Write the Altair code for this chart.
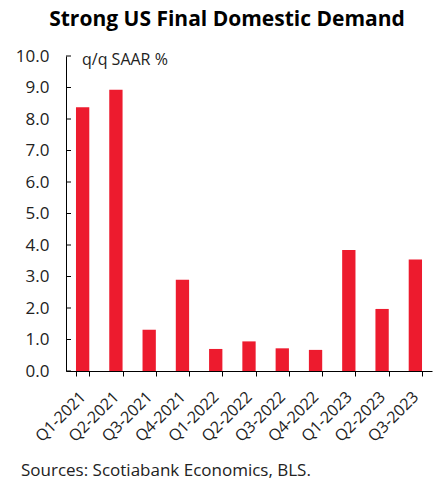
import altair as alt
import pandas as pd

quarters = ["Q1-2021", "Q2-2021", "Q3-2021", "Q4-2021", "Q1-2022", "Q2-2022",
            "Q3-2022", "Q4-2022", "Q1-2023", "Q2-2023", "Q3-2023"]
growth = [8.37, 8.93, 1.31, 2.90, 0.70, 0.94, 0.72, 0.67, 3.84, 1.97, 3.54]
y_ticks = [0, 1, 2, 3, 4, 5, 6, 7, 8, 9, 10]
unit_label = "q/q SAAR %"
source_note = "Sources: Scotiabank Economics, BLS."
chart_title = "Strong US Final Domestic Demand"

FONT = "Open Sans"
RED = "#ED1B2E"
INK = "#222222"
W, H = 366, 315

df = pd.DataFrame({"quarter": quarters, "growth": growth})
ticks_df = pd.DataFrame({"v": y_ticks})

y_scale = alt.Scale(domain=[0, 10], nice=False)
y_axis = alt.Axis(values=y_ticks, format=".1f", ticks=False,
                  labelPadding=17, domainColor="black", labelOverlap=False,
                  labelFont=FONT, labelFontSize=17, labelColor=INK)

bars = alt.Chart(df).mark_bar(color=RED).encode(
    x=alt.X("quarter:N", sort=quarters, title=None,
            scale=alt.Scale(paddingInner=0.6, paddingOuter=0.3),
            axis=alt.Axis(labelAngle=-45, labelAlign="right", labelBaseline="middle",
                          tickBand="extent", tickSize=5, tickColor="black",
                          domainColor="black", labelPadding=18, labelOverlap=False,
                          labelFont=FONT, labelFontSize=16, labelColor=INK)),
    y=alt.Y("growth:Q", scale=y_scale, title=None, axis=y_axis),
)

# inward-pointing y ticks
inner_ticks = alt.Chart(ticks_df).mark_rule(color="black").encode(
    y=alt.Y("v:Q", scale=y_scale, title=None, axis=y_axis),
    x=alt.value(0), x2=alt.value(5),
)

unit = alt.Chart(pd.DataFrame({"t": [unit_label]})).mark_text(
    align="left", baseline="middle", font=FONT, fontSize=16, color=INK
).encode(text="t:N", x=alt.value(16), y=alt.value(4))

note = alt.Chart(pd.DataFrame({"t": [source_note]})).mark_text(
    align="left", baseline="middle", font=FONT, fontSize=17, color=INK
).encode(text="t:N", x=alt.value(-45), y=alt.value(415))

chart = alt.layer(bars, inner_ticks, unit, note).properties(
    width=W, height=H,
    title=alt.TitleParams(chart_title, font=FONT, fontSize=21, fontWeight="bold",
                          color="black", anchor="middle", offset=17, dx=-22),
    padding={"left": 66, "top": 56, "right": 1, "bottom": 116},
    autosize="none",
).configure_view(stroke=None).configure_axis(grid=False)

chart.save("out.html", embed_options={"renderer": "svg", "actions": False})
